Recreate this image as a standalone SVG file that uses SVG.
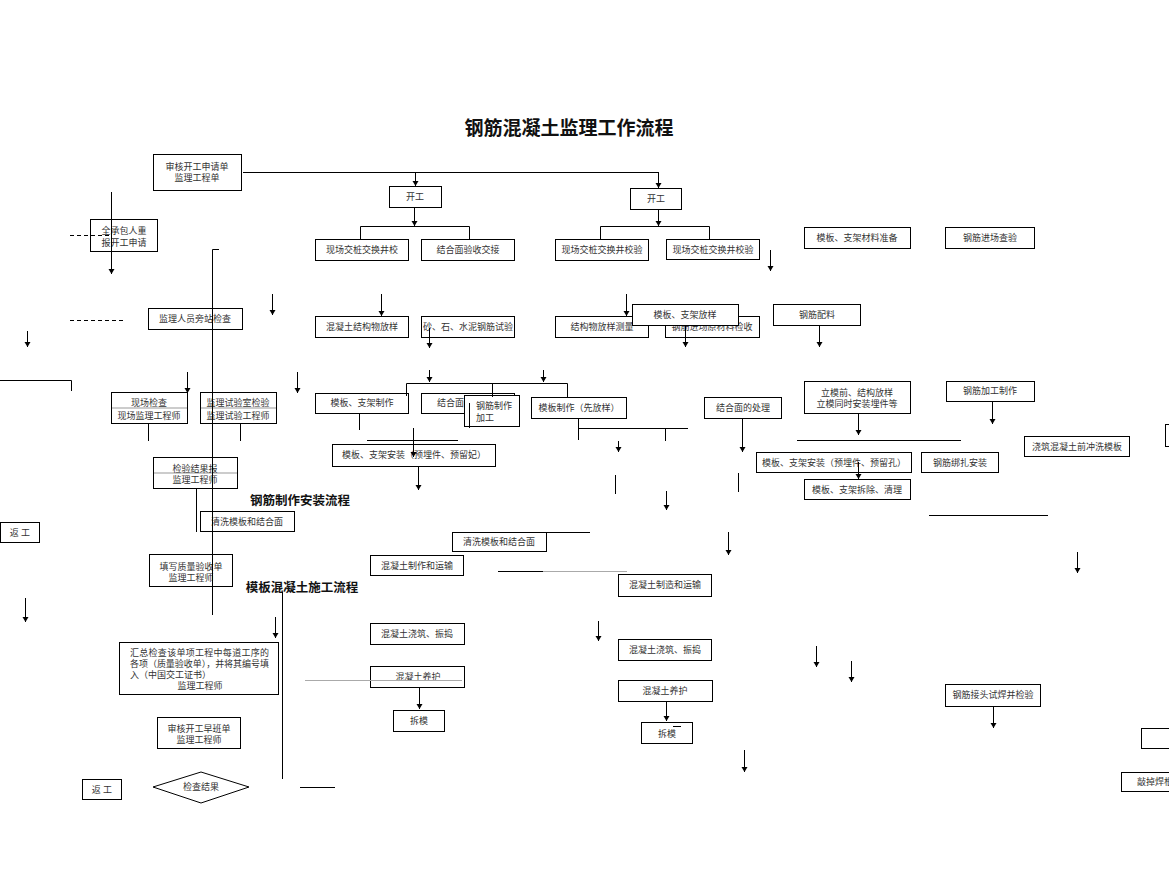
<svg xmlns="http://www.w3.org/2000/svg" width="1169" height="874" viewBox="0 0 1169 874">
<style>
.b{fill:#fff;stroke:#000;stroke-width:1}
.t{font-family:"Liberation Serif","Noto Sans CJK SC",serif;font-size:9px;fill:#333;text-anchor:middle}
.h{font-family:"Liberation Serif","Noto Sans CJK SC",serif;font-weight:bold;fill:#111;text-anchor:middle}
.g{stroke:#999;stroke-width:1}
#conn line,#conn polyline{stroke:#000;stroke-width:1;fill:none}
#conn .a{marker-end:url(#ah)}
#conn .d{stroke-dasharray:4,3}
#conn .gl{stroke:#aaa}
</style>
<defs>
<marker id="ah" markerUnits="userSpaceOnUse" markerWidth="6" markerHeight="7" refX="5" refY="3.5" orient="auto">
<path d="M0,0.5 L5,3.5 L0,6.5 z" fill="#000"/>
</marker>
</defs>
<rect width="1169" height="874" fill="#fff"/>
<text class="h" x="569" y="135" font-size="19">钢筋混凝土监理工作流程</text>
<text class="h" x="300" y="505" font-size="12.5">钢筋制作安装流程</text>
<text class="h" x="302" y="592" font-size="12.5">模板混凝土施工流程</text>

<g id="n1"><rect class="b" x="153.5" y="154.5" width="88" height="36"/><text class="t" x="197" y="169.5">审核开工申请单</text><text class="t" x="197" y="180.5">监理工程单</text></g>
<g id="n2"><rect class="b" x="389.5" y="186.5" width="52" height="21"/><text class="t" x="415" y="200">开工</text></g>
<g id="n3"><rect class="b" x="630.5" y="188.5" width="51" height="21"/><text class="t" x="656" y="202">开工</text></g>
<g id="n4"><rect class="b" x="315.5" y="239.5" width="93" height="21"/><text class="t" x="362" y="253">现场交桩交换井校</text></g>
<g id="n5"><rect class="b" x="421.5" y="239.5" width="93" height="21"/><text class="t" x="468" y="253">结合面验收交接</text></g>
<g id="n6"><rect class="b" x="555.5" y="239.5" width="93" height="21"/><text class="t" x="602" y="253">现场交桩交换井校验</text></g>
<g id="n7"><rect class="b" x="666.5" y="239.5" width="93" height="20"/><text class="t" x="713" y="253">现场交桩交换井校验</text></g>
<g id="n8"><rect class="b" x="804.5" y="227.5" width="106" height="21"/><text class="t" x="857" y="241">模板、支架材料准备</text></g>
<g id="n9"><rect class="b" x="945.5" y="227.5" width="89" height="21"/><text class="t" x="990" y="241">钢筋进场查验</text></g>
<g id="n10"><rect class="b" x="90.5" y="219.5" width="67" height="32"/><text class="t" x="124" y="234">全承包人重</text><text class="t" x="124" y="246">报开工申请</text></g>
<g id="n11"><rect class="b" x="148.5" y="308.5" width="94" height="21"/><text class="t" x="195" y="322">监理人员旁站检查</text></g>
<g id="n12"><rect class="b" x="315.5" y="316.5" width="93" height="21"/><text class="t" x="362" y="330">混凝土结构物放样</text></g>
<g id="n13"><rect class="b" x="421.5" y="316.5" width="93" height="21"/><text class="t" x="468" y="330">砂、石、水泥钢筋试验</text></g>
<g id="n14"><rect class="b" x="555.5" y="316.5" width="93" height="21"/><text class="t" x="602" y="330">结构物放样测量</text></g>
<g id="n15"><rect class="b" x="665.5" y="316.5" width="94" height="21"/><text class="t" x="712" y="330">钢筋进场原材料检收</text></g>
<g id="n16"><rect class="b" x="632.5" y="304.5" width="106" height="21"/><text class="t" x="685" y="318">模板、支架放样</text></g>
<g id="n17"><rect class="b" x="773.5" y="304.5" width="87" height="21"/><text class="t" x="817" y="318">钢筋配料</text></g>
<g id="n18"><rect class="b" x="111.5" y="392.5" width="76" height="31"/><line class="g" x1="112" y1="408" x2="187" y2="408"/><text class="t" x="149" y="406">现场检查</text><text class="t" x="149" y="419">现场监理工程师</text></g>
<g id="n19"><rect class="b" x="200.5" y="392.5" width="76" height="31"/><line class="g" x1="201" y1="408" x2="276" y2="408"/><text class="t" x="238" y="406">监理试验室检验</text><text class="t" x="238" y="419">监理试验工程师</text></g>
<g id="n20"><rect class="b" x="315.5" y="393.5" width="93" height="20"/><text class="t" x="362" y="406">模板、支架制作</text></g>
<g id="n21"><rect class="b" x="421.5" y="393.5" width="93" height="20"/><text class="t" x="437" y="406" style="text-anchor:start">结合面</text></g>
<g id="n22"><rect class="b" x="464.5" y="395.5" width="55" height="31"/><text class="t" x="476" y="409" style="text-anchor:start">钢筋制作</text><text class="t" x="476" y="421" style="text-anchor:start">加工</text></g>
<g id="n23"><rect class="b" x="531.5" y="397.5" width="95" height="21"/><text class="t" x="579" y="411">模板制作（先放样）</text></g>
<g id="n24"><rect class="b" x="704.5" y="397.5" width="77" height="21"/><text class="t" x="743" y="411">结合面的处理</text></g>
<g id="n25"><rect class="b" x="804.5" y="381.5" width="106" height="32"/><text class="t" x="857" y="396">立模前、结构放样</text><text class="t" x="857" y="407">立模同时安装埋件等</text></g>
<g id="n26"><rect class="b" x="946.5" y="381.5" width="88" height="20"/><text class="t" x="990" y="394">钢筋加工制作</text></g>
<g id="n27"><rect class="b" x="153.5" y="457.5" width="84" height="31"/><line class="g" x1="154" y1="473" x2="237" y2="473"/><text class="t" x="195" y="472">检验结果报</text><text class="t" x="195" y="483">监理工程师</text></g>
<g id="n28"><rect class="b" x="332.5" y="444.5" width="163" height="22"/><text class="t" x="414" y="458">模板、支架安装（预埋件、预留妃）</text></g>
<g id="n29"><rect class="b" x="756.5" y="452.5" width="155" height="20"/><text class="t" x="834" y="466">模板、支架安装（预埋件、预留孔）</text></g>
<g id="n30"><rect class="b" x="921.5" y="452.5" width="77" height="20"/><text class="t" x="960" y="466">钢筋绑扎安装</text></g>
<g id="n31"><rect class="b" x="804.5" y="479.5" width="106" height="20"/><text class="t" x="857" y="493">模板、支架拆除、清理</text></g>
<g id="n32"><rect class="b" x="1024.5" y="436.5" width="105" height="20"/><text class="t" x="1077" y="450">浇筑混凝土前冲洗模板</text></g>
<g id="n33"><rect class="b" x="1165.5" y="424.5" width="12" height="22"/></g>
<g id="n34"><rect class="b" x="200.5" y="511.5" width="94" height="20"/><text class="t" x="247" y="525">清洗模板和结合面</text></g>
<g id="n35"><rect class="b" x="0.5" y="522.5" width="39" height="20"/><text class="t" x="20" y="536">返 工</text></g>
<g id="n36"><rect class="b" x="452.5" y="532.5" width="94" height="19"/><text class="t" x="499" y="545">清洗模板和结合面</text></g>
<g id="n37"><rect class="b" x="149.5" y="554.5" width="83" height="32"/><text class="t" x="191" y="570">填写质量验收单</text><text class="t" x="191" y="581">监理工程师</text></g>
<g id="n38"><rect class="b" x="370.5" y="555.5" width="93" height="20"/><text class="t" x="417" y="569">混凝土制作和运输</text></g>
<g id="n39"><rect class="b" x="618.5" y="574.5" width="93" height="22"/><text class="t" x="665" y="588">混凝土制造和运输</text></g>
<g id="n40"><rect class="b" x="370.5" y="623.5" width="94" height="21"/><text class="t" x="417" y="637">混凝土浇筑、振捣</text></g>
<g id="n41"><rect class="b" x="618.5" y="639.5" width="93" height="21"/><text class="t" x="665" y="653">混凝土浇筑、振捣</text></g>
<g id="n42"><rect class="b" x="119.5" y="642.5" width="159" height="52"/>
<text class="t" x="130" y="656" style="text-anchor:start" textLength="139">汇总检查该单项工程中每道工序的</text>
<text class="t" x="130" y="667" style="text-anchor:start" textLength="139">各项（质量验收单），并将其编号填</text>
<text class="t" x="130" y="678" style="text-anchor:start">入（中国交工证书）</text>
<text class="t" x="200" y="689">监理工程师</text></g>
<g id="n43"><rect class="b" x="370.5" y="666.5" width="94" height="21"/><text class="t" x="418" y="680">混凝土养护</text></g>
<g id="n44"><rect class="b" x="618.5" y="680.5" width="94" height="21"/><text class="t" x="665" y="694">混凝土养护</text></g>
<g id="n45"><rect class="b" x="945.5" y="684.5" width="95" height="22"/><text class="t" x="993" y="698">钢筋接头试焊并检验</text></g>
<g id="n46"><rect class="b" x="393.5" y="710.5" width="51" height="21"/><text class="t" x="419" y="724">拆模</text></g>
<g id="n47"><rect class="b" x="641.5" y="722.5" width="51" height="21"/><text class="t" x="667" y="737" font-size="11">拆模</text></g>
<g id="n48"><rect class="b" x="157.5" y="717.5" width="83" height="31"/><text class="t" x="199" y="732">审核开工早班单</text><text class="t" x="199" y="743">监理工程师</text></g>
<g id="n49"><rect class="b" x="1141.5" y="728.5" width="40" height="20"/></g>
<g id="n50"><rect class="b" x="82.5" y="779.5" width="39" height="20"/><text class="t" x="102" y="793">返 工</text></g>
<g id="n51"><polygon class="b" points="153,787 201,772 249,787 201,803"/><text class="t" x="201" y="790">检查结果</text></g>
<g id="n52"><rect class="b" x="1121.5" y="772.5" width="60" height="19"/><text class="t" x="1137" y="785" style="text-anchor:start">敲掉焊根</text></g>

<g id="conn">
<line x1="243" y1="172.5" x2="658.5" y2="172.5"/>
<line class="a" x1="415.5" y1="172" x2="415.5" y2="186"/>
<line class="a" x1="658.5" y1="172" x2="658.5" y2="188"/>
<line class="a" x1="414.5" y1="208" x2="414.5" y2="226"/>
<polyline points="360.5,240 360.5,226.5 469.5,226.5 469.5,240"/>
<line class="a" x1="658.5" y1="210" x2="658.5" y2="226"/>
<polyline points="600.5,240 600.5,226.5 709.5,226.5 709.5,240"/>
<line class="a" x1="770.5" y1="250" x2="770.5" y2="271"/>
<line class="a" x1="111.5" y1="192" x2="111.5" y2="274"/>
<line class="d" x1="70" y1="235.5" x2="111" y2="235.5"/>
<line class="d" x1="70" y1="320.5" x2="126" y2="320.5"/>
<polyline points="219,249.5 212.5,249.5 212.5,615"/>
<line class="a" x1="27.5" y1="331" x2="27.5" y2="347"/>
<line class="a" x1="272.5" y1="294" x2="272.5" y2="315"/>
<line class="a" x1="381.5" y1="294" x2="381.5" y2="316"/>
<line class="a" x1="626.5" y1="294" x2="626.5" y2="316"/>
<line class="a" x1="429.5" y1="328" x2="429.5" y2="348"/>
<line class="a" x1="685.5" y1="326" x2="685.5" y2="347"/>
<line class="a" x1="819.5" y1="326" x2="819.5" y2="347"/>
<polyline points="0,380.5 71.5,380.5 71.5,391"/>
<line class="a" x1="187.5" y1="372" x2="187.5" y2="393"/>
<line class="a" x1="297.5" y1="372" x2="297.5" y2="393"/>
<line class="a" x1="429.5" y1="370" x2="429.5" y2="382"/>
<line class="a" x1="543.5" y1="370" x2="543.5" y2="382"/>
<polyline points="406.5,396 406.5,383.5 567.5,383.5 567.5,397"/>
<line x1="492.5" y1="383" x2="492.5" y2="397"/>
<line x1="469.5" y1="403" x2="469.5" y2="428"/>
<line x1="148.5" y1="424" x2="148.5" y2="441"/>
<line x1="240.5" y1="424" x2="240.5" y2="441"/>
<line x1="359.5" y1="414" x2="359.5" y2="430"/>
<line x1="367" y1="440.5" x2="458" y2="440.5"/>
<line class="a" x1="413.5" y1="428" x2="413.5" y2="457"/>
<line class="a" x1="418.5" y1="467" x2="418.5" y2="490"/>
<line x1="578.5" y1="419" x2="578.5" y2="440"/>
<line x1="578" y1="428.5" x2="688" y2="428.5"/>
<line x1="665.5" y1="428" x2="665.5" y2="441"/>
<line class="a" x1="618.5" y1="441" x2="618.5" y2="452"/>
<line class="a" x1="742.5" y1="419" x2="742.5" y2="452"/>
<line class="a" x1="858.5" y1="414" x2="858.5" y2="435"/>
<line class="a" x1="992.5" y1="402" x2="992.5" y2="424"/>
<line x1="797" y1="440.5" x2="961" y2="440.5"/>
<line class="a" x1="858.5" y1="462" x2="858.5" y2="479"/>
<line x1="615.5" y1="475" x2="615.5" y2="494"/>
<line x1="738.5" y1="473" x2="738.5" y2="492"/>
<line class="a" x1="666.5" y1="491" x2="666.5" y2="510"/>
<line x1="196.5" y1="489" x2="196.5" y2="532"/>
<line x1="533" y1="532.5" x2="590" y2="532.5"/>
<line x1="498" y1="571.5" x2="543" y2="571.5"/>
<line class="gl" x1="543" y1="571.5" x2="627" y2="571.5"/>
<line class="a" x1="728.5" y1="532" x2="728.5" y2="555"/>
<line x1="929" y1="515.5" x2="1048" y2="515.5"/>
<line class="a" x1="1077.5" y1="552" x2="1077.5" y2="573"/>
<line x1="282.5" y1="592" x2="282.5" y2="779"/>
<line class="a" x1="25.5" y1="598" x2="25.5" y2="622"/>
<line class="a" x1="275.5" y1="617" x2="275.5" y2="638"/>
<line class="a" x1="598.5" y1="621" x2="598.5" y2="641"/>
<line class="gl" x1="305" y1="680.5" x2="462" y2="680.5"/>
<line class="a" x1="419.5" y1="688" x2="419.5" y2="709"/>
<line class="a" x1="666.5" y1="702" x2="666.5" y2="721"/>
<line x1="673" y1="726.5" x2="681" y2="726.5"/>
<line class="a" x1="744.5" y1="750" x2="744.5" y2="772"/>
<line class="a" x1="816.5" y1="646" x2="816.5" y2="667"/>
<line class="a" x1="851.5" y1="661" x2="851.5" y2="682"/>
<line class="a" x1="993.5" y1="707" x2="993.5" y2="728"/>
<line x1="300" y1="787.5" x2="335" y2="787.5"/>
</g>
</svg>
